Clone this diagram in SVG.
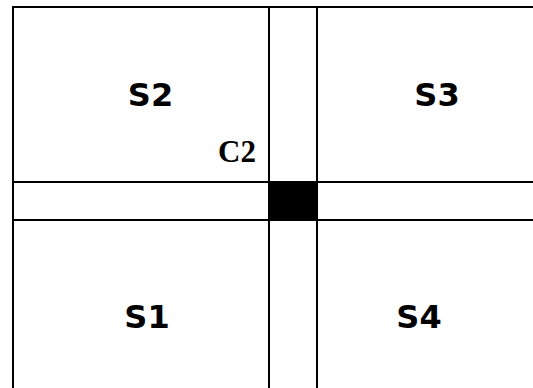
<svg xmlns="http://www.w3.org/2000/svg" width="533" height="388" viewBox="0 0 533 388">
<style>
.ln{stroke:#000;stroke-width:2;fill:none}
.lbl{font-family:"DejaVu Sans",Verdana,sans-serif;font-weight:bold;font-size:32px;fill:#000;text-anchor:middle}
.c{font-family:"Liberation Serif","Times New Roman",serif;font-weight:bold;font-size:31px;fill:#000;text-anchor:middle}
</style>
<rect x="0" y="0" width="533" height="388" fill="#fff"/>
<g id="connectors">
<path class="ln" d="M13 388V7H533"/>
<path class="ln" d="M13 182H533M13 220H533"/>
<path class="ln" d="M269 7V388M317 7V388"/>
</g>
<g id="C1"><rect x="268" y="181" width="50" height="40" fill="#000"/></g>
<g id="S2"><text class="lbl" x="150.5" y="106">S2</text></g>
<g id="S3"><text class="lbl" x="437" y="106">S3</text></g>
<g id="S1"><text class="lbl" x="147" y="328">S1</text></g>
<g id="S4"><text class="lbl" x="419" y="328">S4</text></g>
<g id="C2"><text class="c" x="237" y="162">C2</text></g>
</svg>
